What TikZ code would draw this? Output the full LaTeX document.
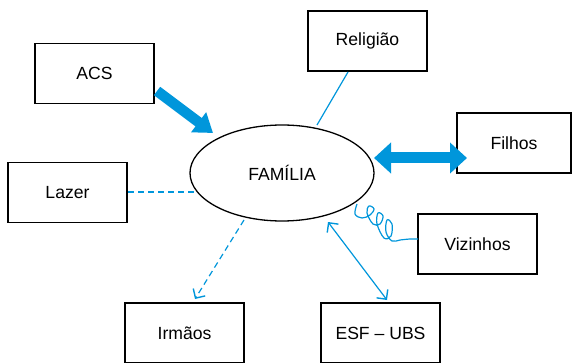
\documentclass[tikz,border=0pt]{standalone}
\usepackage{fontspec}
\setmainfont{Liberation Sans}
\usetikzlibrary{arrows.meta,shapes.geometric}
\definecolor{lblue}{RGB}{0,150,219}
\begin{document}
\begin{tikzpicture}[x=1pt,y=-1pt,
  box/.style={draw=black,line width=1.3pt,minimum width=119pt,minimum height=60pt,inner sep=0pt,font=\fontsize{17.6}{20}\selectfont},
  conn/.style={draw=lblue,line width=1.2pt},
  bigarrow/.style={draw=lblue,line width=10.5pt},
  barb/.style={Straight Barb[length=7pt,width=14pt,line width=1.4pt]}]
\useasboundingbox (0,0) rectangle (572,363);
\node[box] (acs) at (94.5,73.5) {ACS};
\node[box] (rel) at (367.5,41) {Religião};
\node[box,minimum width=114pt] (fil) at (514,143) {Filhos};
\node[box] (laz) at (67.5,192.5) {Lazer};
\node[box] (viz) at (477.5,244) {Vizinhos};
\node[box] (irm) at (184.5,333) {Irmãos};
\node[box] (esf) at (380.5,333) {ESF – UBS};
\node[draw=black,line width=1.3pt,ellipse,minimum width=184pt,minimum height=96pt,inner sep=0pt,font=\fontsize{17.6}{20}\selectfont] (fam) at (282,173) {FAMÍLIA};
% connector endpoints
\coordinate (a1) at (157,91);
\coordinate (a2) at (213,133);
\coordinate (f1) at (374,158);
\coordinate (f2) at (467,158);
\coordinate (r1) at (348,72);
\coordinate (r2) at (317,125);
\coordinate (l1) at (128,192);
\coordinate (l2) at (195,192);
\coordinate (i1) at (244,220);
\coordinate (i2) at (195,299);
\coordinate (e1) at (328,222);
\coordinate (e2) at (387,300);
\coordinate (v1) at (357,204);
\coordinate (v2) at (418,239);
\draw[bigarrow,-{Triangle[length=18pt,width=24pt]}] (a1) -- (a2);
\draw[bigarrow,line width=11pt,{Triangle[length=17pt,width=30pt]}-{Triangle[length=17pt,width=30pt]}] (f1) -- (f2);
\draw[conn] (r1) -- (r2);
\draw[conn,dash pattern=on 6pt off 4pt] (l1) -- (l2);
\draw[conn,dash pattern=on 6pt off 4pt,-{Straight Barb[length=7pt,width=14pt,line width=1.4pt]}] (i1) -- (i2);
\draw[conn,{Straight Barb[length=7pt,width=14pt,line width=1.4pt]}-{Straight Barb[length=7pt,width=14pt,line width=1.4pt]}] (e1) -- (e2);
\draw[conn,line join=round] plot[smooth,tension=0.6] coordinates {(v1) (355,214) (362,218) (370,215) (374,209) (369,206) (367,213) (373,224) (380,224) (383,216) (378,213) (377,224) (384,238) (391,236) (392,224) (387,220) (386,232) (392,241) (400,240) (410,239) (v2)};
\end{tikzpicture}
\end{document}
